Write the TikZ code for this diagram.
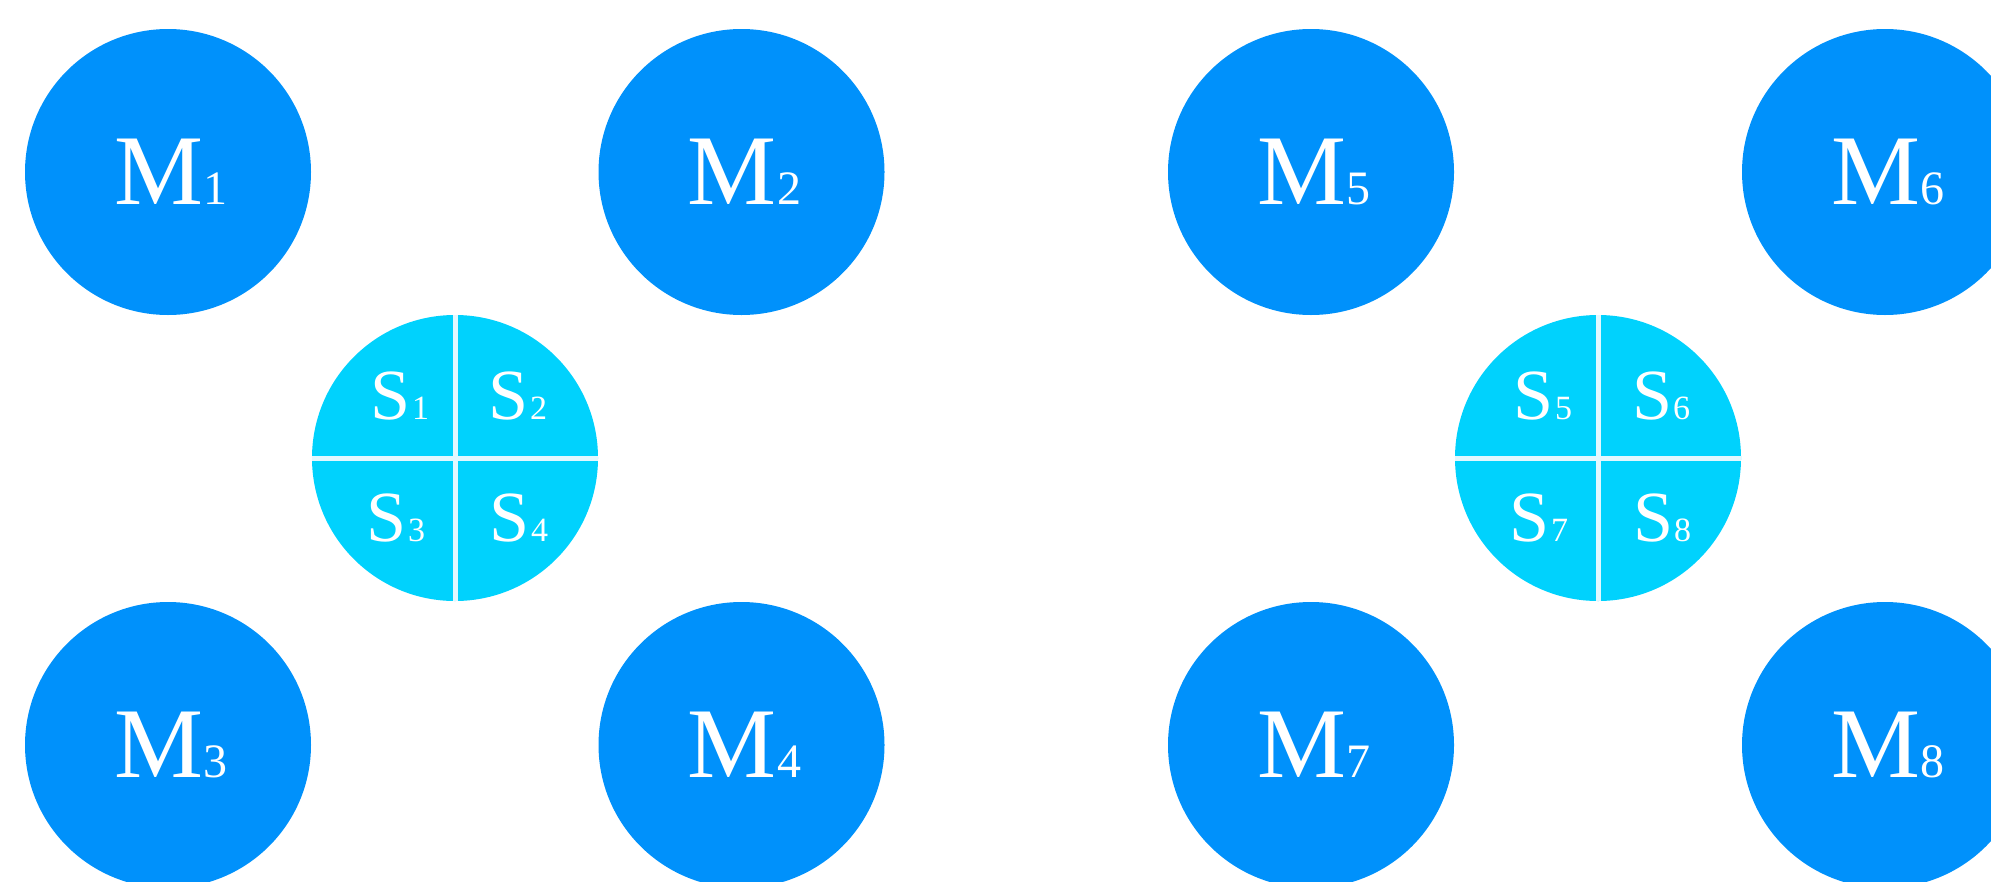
\documentclass[tikz,border=0pt]{standalone}
\usepackage{fontspec}
\setmainfont{Liberation Serif}
\definecolor{mblue}{RGB}{0,145,251}
\definecolor{scyan}{RGB}{0,210,253}
\definecolor{divline}{RGB}{225,248,255}
\newcommand{\mlab}[1]{{\hspace{6pt}\fontsize{100}{100}\selectfont M\kern1pt\fontsize{48}{48}\selectfont #1}}
\newcommand{\slab}[1]{{\fontsize{72}{72}\selectfont S\kern1pt\fontsize{34}{34}\selectfont #1}}
\begin{document}
\begin{tikzpicture}[x=1pt,y=-1pt,
  mcirc/.style={circle,fill=mblue,minimum size=286pt,inner sep=0pt,text=white},
  scirc/.style={circle,fill=scyan,minimum size=286pt,inner sep=0pt},
  slabel/.style={inner sep=0pt,text=white},
  divider/.style={draw=divline,line width=5pt}]
\useasboundingbox (0,0) rectangle (1991,881);
% left group
\node[mcirc] (m1) at (168,172) {\mlab{1}};
\node[mcirc] (m2) at (741.5,172) {\mlab{2}};
\node[mcirc] (m3) at (168,745) {\mlab{3}};
\node[mcirc] (m4) at (741.5,745) {\mlab{4}};
\node[scirc] (sa) at (455,458) {};
\draw[divider] (sa.north) -- (sa.south);
\draw[divider] (sa.west) -- (sa.east);
\node[slabel] (s1) at ([shift={(-55,-62)}]sa.center) {\slab{1}};
\node[slabel] (s2) at ([shift={(63,-62)}]sa.center) {\slab{2}};
\node[slabel] (s3) at ([shift={(-59,60)}]sa.center) {\slab{3}};
\node[slabel] (s4) at ([shift={(64,60)}]sa.center) {\slab{4}};
% right group
\node[mcirc] (m5) at (1311,172) {\mlab{5}};
\node[mcirc] (m6) at (1885,172) {\mlab{6}};
\node[mcirc] (m7) at (1311,745) {\mlab{7}};
\node[mcirc] (m8) at (1885,745) {\mlab{8}};
\node[scirc] (sb) at (1598,458) {};
\draw[divider] (sb.north) -- (sb.south);
\draw[divider] (sb.west) -- (sb.east);
\node[slabel] (s5) at ([shift={(-55,-62)}]sb.center) {\slab{5}};
\node[slabel] (s6) at ([shift={(63,-62)}]sb.center) {\slab{6}};
\node[slabel] (s7) at ([shift={(-59,60)}]sb.center) {\slab{7}};
\node[slabel] (s8) at ([shift={(64,60)}]sb.center) {\slab{8}};
\end{tikzpicture}
\end{document}
